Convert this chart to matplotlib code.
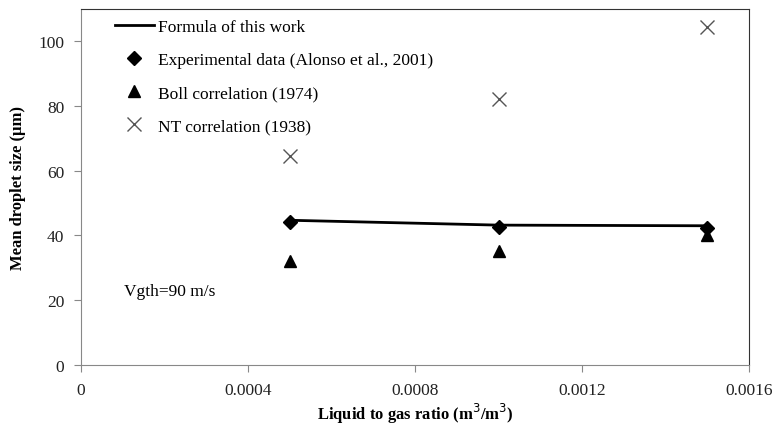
import matplotlib.pyplot as plt

# Liquid to gas ratio (m3/m3)
ratio = [0.0005, 0.0010, 0.0015]

# Mean droplet size (um) for each source
formula = [44.7, 43.2, 43.0]
experimental = [44.3, 42.5, 42.3]
boll = [32.0, 35.3, 40.0]
nt = [64.5, 82.2, 104.3]

plt.rcParams['font.family'] = ['Liberation Serif', 'DejaVu Serif']

fig = plt.figure(figsize=(7.74, 4.27), dpi=100)
ax = fig.add_axes([0.1047, 0.1429, 0.863, 0.834])

ax.plot(ratio, formula, color='black', linewidth=2, label='Formula of this work')
ax.plot(ratio, experimental, linestyle='none', marker='D', markersize=7,
        color='black', label='Experimental data (Alonso et al., 2001)')
ax.plot(ratio, boll, linestyle='none', marker='^', markersize=9,
        color='black', label='Boll correlation (1974)')
ax.plot(ratio, nt, linestyle='none', marker='x', markersize=10,
        markeredgewidth=1, color='#555555', label='NT correlation (1938)')

ax.set_xlim(0, 0.0016)
ax.set_ylim(0, 110)
ax.set_xticks([0, 0.0004, 0.0008, 0.0012, 0.0016])
ax.set_xticklabels(['0', '0.0004', '0.0008', '0.0012', '0.0016'])
ax.set_yticks([0, 20, 40, 60, 80, 100])

ax.tick_params(axis='both', direction='out', length=5, color='#888888',
               labelsize=12.5, labelcolor='#222222', pad=7)
for side in ['left', 'bottom']:
    ax.spines[side].set_color('#888888')
for side in ['top', 'right']:
    ax.spines[side].set_color('#333333')

ax.set_xlabel('Liquid to gas ratio (m$^3$/m$^3$)', fontsize=12,
              fontweight='bold', labelpad=2)
ax.set_ylabel('Mean droplet size (\u03bcm)', fontsize=12,
              fontweight='bold', labelpad=9)

ax.text(0.000103, 23, 'Vgth=90 m/s', fontsize=12.5, va='center')

ax.legend(loc='upper left', bbox_to_anchor=(0.028, 1.015), frameon=False,
          fontsize=12.5, handlelength=2.2, handletextpad=0.25,
          labelspacing=0.97)

fig.savefig('out.png', dpi=100)
